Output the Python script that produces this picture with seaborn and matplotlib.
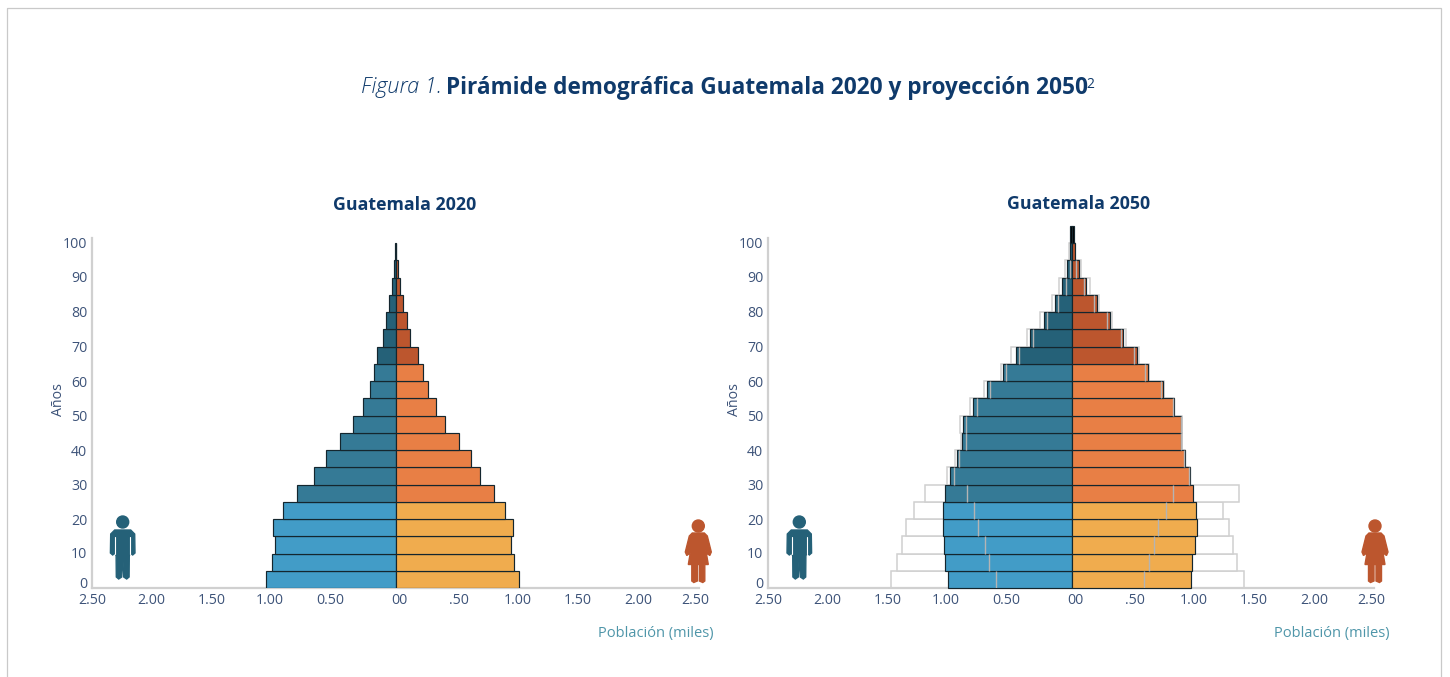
import numpy as np
import pandas as pd
import seaborn as sns
import matplotlib
matplotlib.use("Agg")
import matplotlib.pyplot as plt
from matplotlib.patches import Circle, Polygon, Rectangle
from matplotlib.lines import Line2D
from matplotlib.transforms import Affine2D

# Age bands, bottom to top (band centres)
ages = [2.5, 7.5, 12.5, 17.5, 22.5, 27.5, 32.5, 37.5, 42.5, 47.5,
        52.5, 57.5, 62.5, 67.5, 72.5, 77.5, 82.5, 87.5, 92.5, 97.5]
ages_2050 = ages + [102.5]
groups = ["joven"] * 5 + ["adulto"] * 8 + ["mayor"] * 6 + ["tope"] * 1
groups_2050 = ["joven"] * 5 + ["adulto"] * 8 + ["mayor"] * 7 + ["tope"] * 1

# Guatemala 2020
men_2020 = [1.072, 1.025, 0.998, 1.017, 0.929, 0.820, 0.680, 0.573, 0.458, 0.351,
            0.269, 0.211, 0.178, 0.156, 0.104, 0.080, 0.055, 0.033, 0.016, 0.005]
women_2020 = [1.020, 0.979, 0.951, 0.970, 0.905, 0.814, 0.693, 0.617, 0.521, 0.403,
              0.329, 0.263, 0.222, 0.181, 0.115, 0.090, 0.062, 0.035, 0.020, 0.005]

# Guatemala 2050: solid bars, outer outline, inner grey line
men_2050 = [1.025, 1.044, 1.060, 1.066, 1.066, 1.044, 1.003, 0.945, 0.904, 0.896,
            0.816, 0.704, 0.567, 0.460, 0.345, 0.233, 0.142, 0.082, 0.036, 0.019, 0.016]
women_2050 = [0.981, 0.989, 1.014, 1.030, 1.022, 1.003, 0.973, 0.932, 0.902, 0.902,
              0.841, 0.756, 0.630, 0.537, 0.425, 0.315, 0.206, 0.118, 0.060, 0.022, 0.016]
men_outer = [1.496, 1.444, 1.403, 1.367, 1.307, 1.217, 1.033, 0.967, 0.918, 0.920,
             0.838, 0.723, 0.589, 0.500, 0.370, 0.260, 0.164, 0.107, 0.055, 0.020]
women_outer = [1.422, 1.367, 1.332, 1.301, 1.252, 1.381, 0.978, 0.935, 0.907, 0.907,
               0.846, 0.762, 0.641, 0.551, 0.444, 0.329, 0.222, 0.148, 0.074, 0.022]
men_inner = [0.625, 0.682, 0.715, 0.773, 0.806, 0.863, 0.970, 0.929, 0.871, 0.871,
             0.781, 0.674, 0.543, 0.436, 0.321, 0.206, 0.115, 0.049, 0.016]
women_inner = [0.592, 0.641, 0.682, 0.715, 0.775, 0.838, 0.970, 0.928, 0.898, 0.898,
               0.833, 0.734, 0.603, 0.510, 0.405, 0.288, 0.181, 0.101, 0.033]

# Tick labels, placed where the reference has them
x_labels = ["2.50", "2.00", "1.50", "1.00", "0.50", "00", ".50", "1.00", "1.50", "2.00", "2.50"]
x_label_pos = [-2.51, -2.02, -1.52, -1.04, -0.54, 0.033, 0.525, 1.01, 1.50, 2.0, 2.47]
y_labels = ["0", "10", "20", "30", "40", "50", "60", "70", "80", "90", "100"]
y_label_pos = [1.5, 10.15, 20.0, 29.9, 40.0, 49.9, 60.0, 69.9, 80.3, 90.2, 100.3]

men_colors = {"joven": "#429CC7", "adulto": "#357A96", "mayor": "#256178", "tope": "#000000"}
women_colors = {"joven": "#F0AC4E", "adulto": "#E87F45", "mayor": "#BC562E", "tope": "#000000"}
navy = "#0F3A6B"
tick_color = "#3D5379"
grey_line = "#D0D0D0"

sns.set_theme(style="white")
plt.rcParams["font.family"] = ["Open Sans", "DejaVu Sans"]

W, H = 1450, 677
fig = plt.figure(figsize=(W / 100, H / 100), dpi=100, facecolor="white")
# pixel coordinates of the reference, y going down
px = Affine2D().scale(1 / W, -1 / H).translate(0, 1) + fig.transFigure


def make_axes(x0, x1, y_top, y_bottom):
    return fig.add_axes([x0 / W, 1 - y_bottom / H, (x1 - x0) / W, (y_bottom - y_top) / H])


def side_bars(ax, values, band_names, y_values, colors):
    df = pd.DataFrame({"pop": values, "edad": y_values, "grupo": band_names})
    sns.barplot(data=df, x="pop", y="edad", hue="grupo", palette=colors, orient="y",
                native_scale=True, width=1, dodge=False, saturation=1, legend=False,
                edgecolor="#14262E", linewidth=0.85, ax=ax, zorder=3)


def outline_bars(ax, values, y_values):
    df = pd.DataFrame({"pop": values, "edad": y_values})
    sns.barplot(data=df, x="pop", y="edad", orient="y", native_scale=True, width=1,
                color="white", saturation=1, edgecolor=grey_line, linewidth=1.1,
                ax=ax, zorder=2)


def finish_axes(ax, title, title_x, title_y):
    ax.set_xlim(-2.5, 2.5)
    ax.set_ylim(0, 101.5)
    ax.set_xticks(x_label_pos, x_labels)
    ax.set_yticks(y_label_pos, y_labels)
    ax.tick_params(axis="x", length=0, pad=3.6, labelsize=10.2, labelcolor=tick_color)
    ax.tick_params(axis="y", length=0, pad=3.5, labelsize=10.2, labelcolor=tick_color)
    ax.set_xlabel("")
    ax.set_ylabel("")
    ax.patch.set_alpha(0)
    sns.despine(ax=ax)
    for side in ["left", "bottom"]:
        ax.spines[side].set_color(grey_line)
        ax.spines[side].set_linewidth(1.6)
    box = ax.get_position()
    fig.text(title_x / W, 1 - title_y / H, title, ha="center", va="center",
             fontsize=12.8, fontweight="bold", color=navy)
    fig.text((box.x1 * W + 15) / W, 1 - 633.5 / H, "Población (miles)", ha="right", va="center",
             fontsize=10.5, color="#4F96A9")
    fig.text((box.x0 * W - 33) / W, 1 - 400 / H, "Años", ha="center", va="center",
             rotation=90, fontsize=10.2, color=tick_color)


def man_icon(cx):
    c = "#256178"
    fig.add_artist(Circle((cx, 522), 6, color=c, transform=px))
    fig.add_artist(Polygon([(cx - 8, 530), (cx + 8, 530), (cx + 12, 534), (cx + 12.3, 553),
                            (cx + 10, 555), (cx + 7.5, 553), (cx + 6.6, 556), (cx + 6.4, 577),
                            (cx + 4, 579), (cx + 1, 577), (cx, 555), (cx - 1, 577),
                            (cx - 4, 579), (cx - 6.4, 577), (cx - 6.6, 556), (cx - 7.5, 553),
                            (cx - 10, 555), (cx - 12.3, 553), (cx - 12, 534)],
                           closed=True, color=c, transform=px))
    for s in [-1, 1]:
        fig.add_artist(Line2D([cx + s * 7.4, cx + s * 7.4], [537, 554], color="white",
                              lw=0.8, transform=px))


def woman_icon(cx):
    c = "#BC562E"
    fig.add_artist(Circle((cx, 526), 6, color=c, transform=px))
    fig.add_artist(Polygon([(cx - 6, 533), (cx + 6, 533), (cx + 9, 536), (cx + 13, 552),
                            (cx + 11.5, 555.5), (cx + 9.5, 554), (cx + 6.5, 544), (cx + 10, 564.5),
                            (cx + 6.5, 564.5), (cx + 6.5, 581), (cx + 4.5, 582.5), (cx + 1, 581),
                            (cx + 1, 564.5), (cx - 1, 564.5), (cx - 1, 581), (cx - 4.5, 582.5),
                            (cx - 6.5, 581), (cx - 6.5, 564.5), (cx - 10, 564.5), (cx - 6.5, 544),
                            (cx - 9.5, 554), (cx - 11.5, 555.5), (cx - 13, 552), (cx - 9, 536)],
                           closed=True, color=c, transform=px))


# Outer frame of the page, open at the bottom
fig.add_artist(Rectangle((7, 8), 1434, 690, fill=False, edgecolor="#C9C9C9", lw=0.9, transform=px))

# Title in three pieces
fig.text(361 / W, 1 - 87.5 / H, "Figura 1.", ha="left", va="center", fontsize=15.7,
         style="italic", fontweight="light", color=navy)
fig.text(446 / W, 1 - 87.5 / H, "Pirámide demográfica Guatemala 2020 y proyección 2050",
         ha="left", va="center", fontsize=16.25, fontweight="bold", color=navy)
fig.text(1086 / W, 1 - 84 / H, "2", ha="left", va="center", fontsize=10, color=navy)

# Guatemala 2020
ax1 = make_axes(92, 698.5, 238, 588)
side_bars(ax1, -np.array(men_2020), groups[:19] + ["tope"], ages, men_colors)
side_bars(ax1, np.array(women_2020), groups[:19] + ["tope"], ages, women_colors)
finish_axes(ax1, "Guatemala 2020", 404.5, 205)
man_icon(122.7)
woman_icon(698.3)

# Guatemala 2050
ax2 = make_axes(768, 1374.5, 238, 588)
outline_bars(ax2, -np.array(men_outer), ages)
outline_bars(ax2, np.array(women_outer), ages)
side_bars(ax2, -np.array(men_2050), groups_2050, ages_2050, men_colors)
side_bars(ax2, np.array(women_2050), groups_2050, ages_2050, women_colors)
inner_y = np.array(ages[:19])
ax2.vlines(-np.array(men_inner), inner_y - 2.5, inner_y + 2.5, color="#B4B4B4", lw=1.0, zorder=5)
ax2.vlines(np.array(women_inner), inner_y - 2.5, inner_y + 2.5, color="#B4B4B4", lw=1.0, zorder=5)
finish_axes(ax2, "Guatemala 2050", 1078.5, 204)
for patch in ax2.patches:
    patch.set_clip_on(False)
man_icon(799.3)
woman_icon(1375)

fig.savefig("out.png", dpi=100)
